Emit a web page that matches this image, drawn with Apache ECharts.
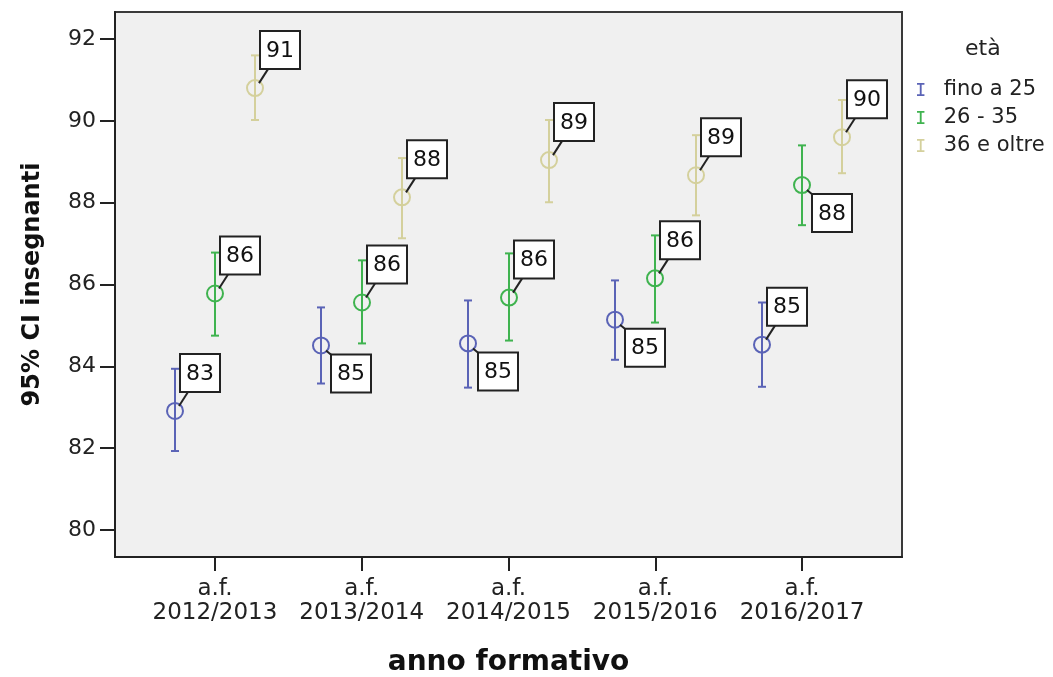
<!DOCTYPE html>
<html>
<head>
<meta charset="utf-8">
<script src="https://cdn.jsdelivr.net/npm/echarts@6/dist/echarts.min.js"></script>
<style>
html, body { margin: 0; padding: 0; background: #fff; }
#main { width: 1053px; height: 677px; }
</style>
</head>
<body>
<div id="main"></div>
<script>
// categorie (anno formativo)
var categories = ['a.f.\n2012/2013', 'a.f.\n2013/2014', 'a.f.\n2014/2015', 'a.f.\n2015/2016', 'a.f.\n2016/2017'];
var ageGroups = ['fino a 25', '26 - 35', '36 e oltre'];

// medie e intervalli di confidenza 95%
var meanFino25 = [82.91, 84.51, 84.56, 85.14, 84.53];
var lowFino25  = [81.93, 83.58, 83.48, 84.16, 83.50];
var highFino25 = [83.94, 85.44, 85.61, 86.10, 85.56];
var labelFino25 = ['83', '85', '85', '85', '85'];

var mean2635 = [85.78, 85.56, 85.68, 86.15, 88.43];
var low2635  = [84.75, 84.56, 84.63, 85.07, 87.45];
var high2635 = [86.78, 86.59, 86.76, 87.20, 89.40];
var label2635 = ['86', '86', '86', '86', '88'];

var mean36 = [90.80, 88.13, 89.04, 88.67, 89.60];
var low36  = [90.02, 87.13, 88.01, 87.69, 88.72];
var high36 = [91.60, 89.09, 90.02, 89.65, 90.51];
var label36 = ['91', '88', '89', '89', '90'];

var yTicks = [80, 82, 84, 86, 88, 90, 92];

// posizione etichette: true = sotto a destra
var labelBelow = [
    [false, true, true, true, false],
    [false, false, false, false, true],
    [false, false, false, false, false]
];

var colors = ['#5a63b6', '#3fb34f', '#d4d09c'];
var offsets = [-0.275, 0, 0.275];
var FONT = '"DejaVu Sans", Verdana, sans-serif';

function buildData(mean, low, high, labels) {
    var out = [];
    for (var i = 0; i < mean.length; i++) {
        out.push([i, mean[i], low[i], high[i], labels[i]]);
    }
    return out;
}

function makeRender(k) {
    return function (params, api) {
        var idx = params.dataIndex;
        var xv = api.value(0) + offsets[k];
        var pm = api.coord([xv, api.value(1)]);
        var pl = api.coord([xv, api.value(2)]);
        var ph = api.coord([xv, api.value(3)]);
        var cx = Math.round(pm[0]), cy = pm[1];
        var c = colors[k];
        var lineStyle = {stroke: c, lineWidth: 2, fill: null};
        var children = [
            {type: 'line', shape: {x1: cx, y1: ph[1], x2: cx, y2: pl[1]}, style: lineStyle},
            {type: 'line', shape: {x1: cx - 4, y1: ph[1], x2: cx + 4, y2: ph[1]}, style: lineStyle},
            {type: 'line', shape: {x1: cx - 4, y1: pl[1], x2: cx + 4, y2: pl[1]}, style: lineStyle},
            {type: 'circle', shape: {cx: cx, cy: cy, r: 8}, style: {stroke: c, lineWidth: 2, fill: 'rgba(0,0,0,0)'}}
        ];
        var bx, by, leader;
        if (labelBelow[k][idx]) {
            bx = cx + 10; by = cy + 9;
            leader = {x1: cx + 5, y1: cy + 5, x2: cx + 11, y2: cy + 10};
        } else {
            bx = cx + 5; by = cy - 19 - 38;
            leader = {x1: cx + 4, y1: cy - 5, x2: cx + 13, y2: cy - 19};
        }
        children.push({type: 'line', shape: leader, style: {stroke: '#222', lineWidth: 2}});
        children.push({type: 'rect', shape: {x: bx, y: by, width: 40, height: 38},
            style: {fill: '#fff', stroke: '#222', lineWidth: 2}});
        children.push({type: 'text', style: {
            text: api.value(4) + '', x: bx + 20, y: by + 20,
            align: 'center', verticalAlign: 'middle',
            font: '22px ' + FONT, fill: '#111'
        }});
        return {type: 'group', children: children};
    };
}

var seriesData = [
    buildData(meanFino25, lowFino25, highFino25, labelFino25),
    buildData(mean2635, low2635, high2635, label2635),
    buildData(mean36, low36, high36, label36)
];

var series = [];
for (var k = 0; k < 3; k++) {
    series.push({
        name: ageGroups[k],
        type: 'custom',
        renderItem: makeRender(k),
        itemStyle: {color: colors[k]},
        encode: {x: 0, y: [1, 2, 3]},
        data: seriesData[k],
        z: 2 + k
    });
}

var myChart = echarts.init(document.getElementById('main'));
var option = {
    backgroundColor: '#fff',
    animation: false,
    title: {
        text: 'età',
        left: 960,
        top: 33,
        textStyle: {fontFamily: FONT, fontSize: 22, fontWeight: 'normal', color: '#222'}
    },
    legend: {
        orient: 'vertical',
        left: 912,
        top: 74,
        itemWidth: 8,
        itemHeight: 13,
        itemGap: 7,
        icon: 'path://M0,0 H8 V2 H5 V12 H8 V14 H0 V12 H3 V2 H0 Z',
        data: ageGroups,
        textStyle: {fontFamily: FONT, fontSize: 21, color: '#222', padding: [0, 0, 0, 14]}
    },
    grid: {
        left: 115, top: 12, right: 151, bottom: 120,
        outerBoundsMode: 'none',
        show: true,
        backgroundColor: '#f0f0f0',
        borderColor: '#3a3a3a',
        borderWidth: 2
    },
    xAxis: {
        type: 'value',
        min: -0.681,
        max: 4.681,
        name: 'anno formativo',
        nameLocation: 'middle',
        nameGap: 92,
        nameTextStyle: {fontFamily: FONT, fontSize: 28, fontWeight: 'bold', color: '#111'},
        axisLine: {show: true, onZero: false, lineStyle: {color: '#222', width: 2}},
        axisTick: {show: true, length: 14, customValues: [0, 1, 2, 3, 4], lineStyle: {color: '#222', width: 2}},
        axisLabel: {
            customValues: [0, 1, 2, 3, 4],
            margin: 20,
            lineHeight: 24,
            fontFamily: FONT,
            fontSize: 23,
            color: '#222',
            formatter: function (v) { return categories[Math.round(v)]; }
        },
        splitLine: {show: false}
    },
    yAxis: {
        type: 'value',
        min: 79.34,
        max: 92.66,
        name: '95% CI insegnanti',
        nameLocation: 'middle',
        nameGap: 70,
        nameTextStyle: {fontFamily: FONT, fontSize: 24, fontWeight: 'bold', color: '#111'},
        axisLine: {show: true, onZero: false, lineStyle: {color: '#222', width: 2}},
        axisTick: {show: true, length: 15, customValues: yTicks, lineStyle: {color: '#222', width: 2}},
        axisLabel: {
            customValues: yTicks,
            margin: 19,
            fontFamily: FONT,
            fontSize: 22,
            color: '#222'
        },
        splitLine: {show: false}
    },
    series: series
};
myChart.setOption(option);
</script>
</body>
</html>
